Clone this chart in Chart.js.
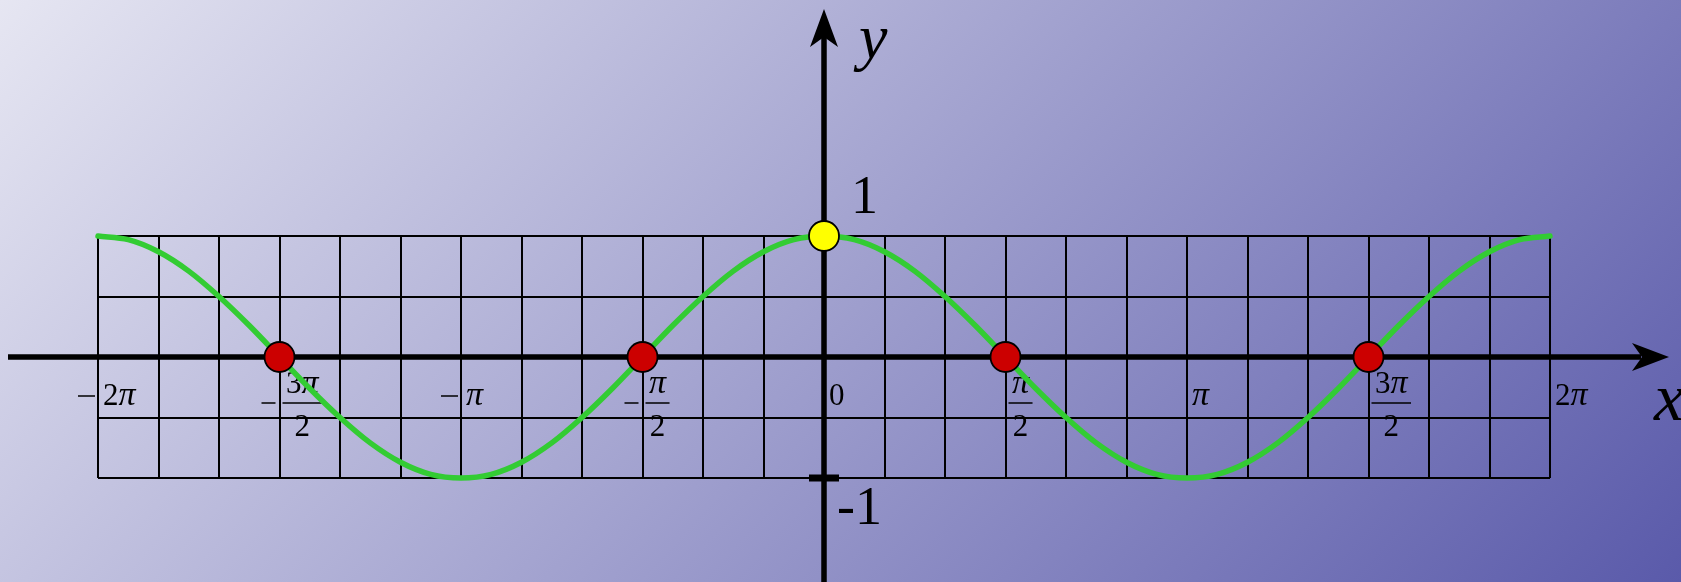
<!DOCTYPE html>
<html>
<head>
<meta charset="utf-8">
<title>y = cos x</title>
<script src="https://cdn.jsdelivr.net/npm/chart.js@4.4.1/dist/chart.umd.min.js"></script>
<style>
html, body { margin: 0; padding: 0; overflow: hidden; }
canvas { display: block; }
</style>
</head>
<body>
<canvas id="cosChart" width="1681" height="582"></canvas>
<script>
// grid columns, in steps of pi/6, from -2pi to 2pi
const xGridSteps = [-12, -11, -10, -9, -8, -7, -6, -5, -4, -3, -2, -1, 0,
                    1, 2, 3, 4, 5, 6, 7, 8, 9, 10, 11, 12];
const yGridRows = [-1, -0.5, 0, 0.5, 1];

// curve every pi/12
const curveSteps = [-24, -23, -22, -21, -20, -19, -18, -17, -16, -15, -14, -13, -12,
                    -11, -10, -9, -8, -7, -6, -5, -4, -3, -2, -1, 0,
                    1, 2, 3, 4, 5, 6, 7, 8, 9, 10, 11, 12,
                    13, 14, 15, 16, 17, 18, 19, 20, 21, 22, 23, 24];
const curveY = [1, 0.97, 0.87, 0.71, 0.5, 0.26, 0, -0.26, -0.5, -0.71, -0.87, -0.97, -1,
                -0.97, -0.87, -0.71, -0.5, -0.26, 0, 0.26, 0.5, 0.71, 0.87, 0.97, 1,
                0.97, 0.87, 0.71, 0.5, 0.26, 0, -0.26, -0.5, -0.71, -0.87, -0.97, -1,
                -0.97, -0.87, -0.71, -0.5, -0.26, 0, 0.26, 0.5, 0.71, 0.87, 0.97, 1];

// marked points (x in multiples of pi)
const zeroX = [-1.5, -0.5, 0.5, 1.5];
const zeroY = [0, 0, 0, 0];
const peakX = [0];
const peakY = [1];

// axis labels
const xTickPi = [-2, -1.5, -1, -0.5, 0, 0.5, 1, 1.5, 2];
const xTickLabels = ['−2π', '−3π/2', '−π', '−π/2', '0', 'π/2', 'π', '3π/2', '2π'];
const yTickValues = [1, -1];
const yTickLabels = ['1', '-1'];

const PI = Math.PI;
const SERIF = '"Liberation Serif", "Times New Roman", serif';

const backgroundPlugin = {
    id: 'background',
    beforeDraw(chart) {
        const ctx = chart.ctx;
        const g = ctx.createLinearGradient(0, 0, 1208, 1101);
        g.addColorStop(0, '#e6e6f2');
        g.addColorStop(1, '#5a5aaa');
        ctx.save();
        ctx.fillStyle = g;
        ctx.fillRect(0, 0, chart.width, chart.height);
        ctx.restore();
    }
};

function drawMinus(ctx, x1, x2, y) {
    ctx.lineWidth = 1.5;
    ctx.beginPath();
    ctx.moveTo(x1, y);
    ctx.lineTo(x2, y);
    ctx.stroke();
}

// digits upright, pi slanted
function runFont(ch, size) {
    return ch === 'π' ? 'italic ' + Math.round(size * 1.1) + 'px ' + SERIF
                      : size + 'px ' + SERIF;
}

function runWidth(ctx, text, size) {
    let w = 0;
    for (const ch of text) {
        ctx.font = runFont(ch, size);
        w += ctx.measureText(ch).width;
    }
    return w;
}

function drawRun(ctx, text, left, baseline, size) {
    ctx.textAlign = 'left';
    let xx = left;
    for (const ch of text) {
        ctx.font = runFont(ch, size);
        ctx.fillText(ch, xx, baseline);
        xx += ctx.measureText(ch).width;
    }
}

const axesPlugin = {
    id: 'axes',
    beforeDatasetsDraw(chart) {
        const ctx = chart.ctx;
        const x = chart.scales.x;
        const y = chart.scales.y;
        const ox = x.getPixelForValue(0);
        const oy = y.getPixelForValue(0);
        const W = chart.width, H = chart.height;

        ctx.save();
        ctx.fillStyle = '#000';
        ctx.strokeStyle = '#000';

        // x axis with arrow
        ctx.lineWidth = 5.5;
        ctx.beginPath();
        ctx.moveTo(8, oy);
        ctx.lineTo(W - 40, oy);
        ctx.stroke();
        ctx.beginPath();
        ctx.moveTo(W - 12, oy);
        ctx.lineTo(W - 49, oy - 14);
        ctx.lineTo(W - 39, oy);
        ctx.lineTo(W - 49, oy + 14);
        ctx.closePath();
        ctx.fill();

        // y axis with arrow
        ctx.beginPath();
        ctx.moveTo(ox, 32);
        ctx.lineTo(ox, H);
        ctx.stroke();
        ctx.beginPath();
        ctx.moveTo(ox, 9);
        ctx.lineTo(ox + 14, 47);
        ctx.lineTo(ox, 37);
        ctx.lineTo(ox - 14, 47);
        ctx.closePath();
        ctx.fill();

        // tick mark at -1
        const pm1 = y.getPixelForValue(-1);
        ctx.fillRect(ox - 15, pm1 - 3.5, 30, 7);

        // x tick labels
        ctx.textBaseline = 'alphabetic';
        xTickPi.forEach((v, i) => {
            const tx = x.getPixelForValue(v * PI);
            let text = xTickLabels[i];
            const neg = text.startsWith('−');
            if (neg) text = text.slice(1);

            if (text.includes('/')) {
                const [num, den] = text.split('/');
                const by = 403;
                const size = 31;
                const numW = runWidth(ctx, num, size);
                const barL = tx + 3;
                const barW = numW + 7;
                const cx = barL + barW / 2;
                drawMinus(ctx, barL, barL + barW, by);
                drawRun(ctx, num, cx - numW / 2, by - 10, size);
                const denW = runWidth(ctx, den, size);
                drawRun(ctx, den, cx - denW / 2, by + 33, size);
                if (neg) drawMinus(ctx, tx - 18, tx - 4, by);
            } else {
                drawRun(ctx, text, tx + 5, 405, 31);
                if (neg) drawMinus(ctx, tx - 20, tx - 3, 396);
            }
        });

        // y tick labels
        ctx.font = '54px ' + SERIF;
        ctx.textAlign = 'left';
        yTickValues.forEach((v, i) => {
            const py = y.getPixelForValue(v);
            if (v > 0) {
                ctx.fillText(yTickLabels[i], ox + 27, py - 23);
            } else {
                ctx.fillText(yTickLabels[i], ox + 13, py + 46);
            }
        });

        // axis names
        ctx.font = 'italic 64px ' + SERIF;
        ctx.fillText('y', ox + 35, 58);
        ctx.font = 'italic 68px ' + SERIF;
        ctx.fillText('x', W - 27, oy + 63);

        ctx.restore();
    }
};

const curveData = curveSteps.map((k, i) => ({ x: k * PI / 12, y: curveY[i] }));
const zeroData = zeroX.map((v, i) => ({ x: v * PI, y: zeroY[i] }));
const peakData = peakX.map((v, i) => ({ x: v * PI, y: peakY[i] }));

const ctx = document.getElementById('cosChart').getContext('2d');

new Chart(ctx, {
    type: 'scatter',
    data: {
        datasets: [
            {
                label: 'zeros',
                data: zeroData,
                pointRadius: 15,
                pointBackgroundColor: '#cc0000',
                pointBorderColor: '#000',
                pointBorderWidth: 1.8,
                clip: false,
                order: 1
            },
            {
                label: 'max',
                data: peakData,
                pointRadius: 15,
                pointBackgroundColor: '#ffff00',
                pointBorderColor: '#000',
                pointBorderWidth: 1.8,
                clip: false,
                order: 1
            },
            {
                label: 'cos x',
                data: curveData,
                showLine: true,
                borderColor: '#33cc33',
                borderWidth: 5.5,
                pointRadius: 0,
                cubicInterpolationMode: 'monotone',
                borderCapStyle: 'round',
                clip: false,
                order: 2
            }
        ]
    },
    options: {
        responsive: false,
        animation: false,
        events: [],
        layout: {
            padding: { left: 98, right: 131, top: 236, bottom: 104 }
        },
        plugins: {
            legend: { display: false },
            tooltip: { enabled: false }
        },
        scales: {
            x: {
                type: 'linear',
                min: -2 * PI,
                max: 2 * PI,
                afterBuildTicks: s => {
                    s.ticks = xGridSteps.map(k => ({ value: k * PI / 6 }));
                },
                ticks: { display: false },
                grid: { color: '#000', lineWidth: 2, drawTicks: false },
                border: { display: false }
            },
            y: {
                type: 'linear',
                min: -1,
                max: 1,
                afterBuildTicks: s => {
                    s.ticks = yGridRows.map(v => ({ value: v }));
                },
                ticks: { display: false },
                grid: { color: '#000', lineWidth: 2, drawTicks: false },
                border: { display: false }
            }
        }
    },
    plugins: [backgroundPlugin, axesPlugin]
});
</script>
</body>
</html>
